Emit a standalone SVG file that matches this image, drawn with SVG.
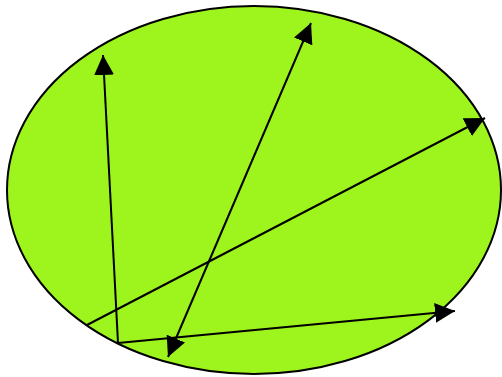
<svg xmlns="http://www.w3.org/2000/svg" width="502" height="377" viewBox="0 0 502 377">
<defs>
<marker id="ah" markerUnits="userSpaceOnUse" markerWidth="20" markerHeight="20" refX="20" refY="10" orient="auto-start-reverse" viewBox="0 0 20 20">
<path d="M0,0 L20,10 L0,20 z" fill="#000"/>
</marker>
<style>
.edge{stroke:#000;stroke-width:2;fill:none;marker-end:url(#ah)}
</style>
</defs>
<g id="ellipse">
<ellipse cx="254" cy="190" rx="247" ry="184" fill="#9ef51e" stroke="#000" stroke-width="2"/>
</g>
<g id="connectors">
<line class="edge" x1="118" y1="343" x2="103" y2="55"/>
<line class="edge" x1="168" y1="357" x2="311" y2="23" style="marker-start:url(#ah)"/>
<line class="edge" x1="87" y1="325" x2="485" y2="118"/>
<line class="edge" x1="118" y1="343" x2="455" y2="311"/>
</g>
</svg>
